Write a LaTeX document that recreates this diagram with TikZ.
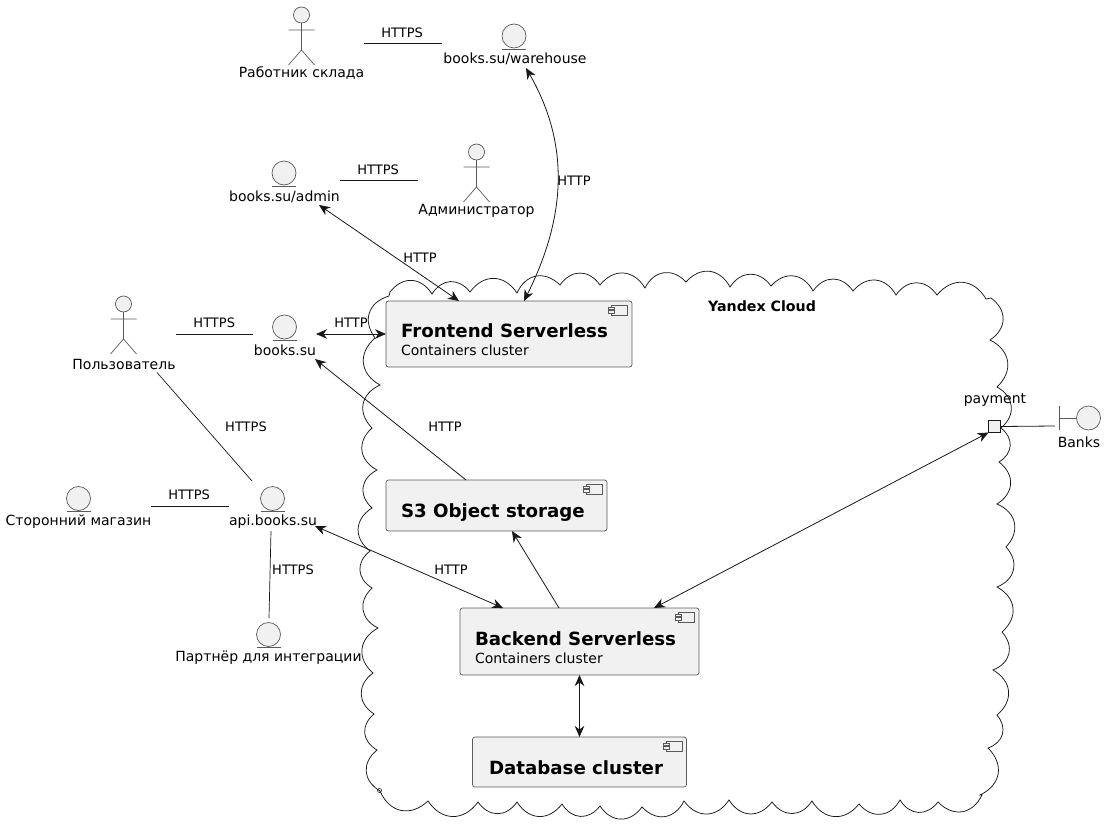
\documentclass[tikz,border=0pt]{standalone}
\usepackage{fontspec}
\setmainfont{DejaVu Sans}
\usetikzlibrary{arrows.meta}
\definecolor{ink}{HTML}{181818}
\definecolor{soft}{HTML}{5A5A5A}
\definecolor{pale}{HTML}{F1F1F1}
\tikzset{
  x=1pt,y=-1pt,
  box/.style={inner sep=0pt,outer sep=0pt,minimum width=#1},
  txt/.style={inner sep=0pt,outer sep=0pt,text=black,font=\fontsize{14}{16}\selectfont},
  lbl/.style={inner sep=0pt,outer sep=0pt,text=black,font=\fontsize{13}{15}\selectfont},
  ttl/.style={inner sep=0pt,outer sep=0pt,anchor=base west,text=black,font=\fontsize{18.2}{22}\selectfont\bfseries},
  subt/.style={inner sep=0pt,outer sep=0pt,anchor=base west,text=black,font=\fontsize{14}{16}\selectfont},
  comp/.style={draw=soft,fill=pale,line width=0.7pt,rounded corners=2.5pt,inner sep=0pt,outer sep=0pt},
  fig/.style={draw=soft,fill=pale,line width=0.7pt},
  edge/.style={draw=ink,line width=0.8pt},
  both/.style={edge,{Stealth[length=11pt,width=9.5pt,inset=3.5pt]}-{Stealth[length=11pt,width=9.5pt,inset=3.5pt]}},
  tohead/.style={edge,-{Stealth[length=11pt,width=9.5pt,inset=3.5pt]}},
  ca/.style={bend left=55,looseness=1.25},
}
\newcommand{\stick}[2]{%
  \draw[fig] (#1,#2) circle[radius=8];
  \draw[draw=soft,line width=0.7pt] (#1,#2+8) -- (#1,#2+35) (#1-13,#2+15) -- (#1+13,#2+15)
    (#1-13,#2+50) -- (#1,#2+35) -- (#1+13,#2+50);}
\newcommand{\ball}[2]{%
  \draw[fig] (#1,#2) circle[radius=12];
  \draw[draw=soft,line width=0.7pt] (#1-12,#2+13) -- (#1+12,#2+13);}
\newcommand{\icon}[2]{%
  \draw[draw=soft,fill=pale,line width=0.6pt] (#1+3,#2) rectangle (#1+19,#2+10);
  \draw[draw=soft,fill=pale,line width=0.6pt] (#1,#2+2) rectangle (#1+6,#2+4.5);
  \draw[draw=soft,fill=pale,line width=0.6pt] (#1,#2+5.5) rectangle (#1+6,#2+8);}
\begin{document}
\begin{tikzpicture}
\useasboundingbox (0,0) rectangle (1107,832);
% cloud
\draw[draw=ink,line width=0.75pt,line join=miter]
  (390,292) to[ca] (432,294) to[ca] (470,292) to[ca] (517,293) to[ca] (560,285) to[ca] (600,285)
  to[ca] (645,288) to[ca] (686,282) to[ca] (730,287) to[ca] (771,286) to[ca] (813,291) to[ca] (853,291)
  to[ca] (896,295) to[ca] (937,295) to[ca] (986,299) -- (991,298)
  to[ca] (990,340) to[ca] (997,387) to[ca] (1001,428) to[ca] (999,462) to[ca] (997,504) to[ca] (1006,547)
  to[ca] (997,587) to[ca] (1002,632) to[ca] (993,670) to[ca] (997,715) to[ca] (988,748) to[ca] (980,795) -- (982,795)
  to[ca] (938,802) to[ca] (900,800) to[ca] (859,804) to[ca] (812,801) to[ca] (772,802) to[ca] (729,800)
  to[ca] (684,801) to[ca] (642,807) to[ca] (600,806) to[ca] (562,804) to[ca] (517,802) to[ca] (478,802)
  to[ca] (428,801) to[ca] (380,791)
  to[ca] (377,750) to[ca] (374,714) to[ca] (373,673) to[ca] (378,628) to[ca] (372,588) to[ca] (370,551)
  to[ca] (372,508) to[ca] (377,470) to[ca] (372,428) to[ca] (380,385) to[ca] (375,338) to[ca] (389,296) -- (390,292);
\draw[draw=ink,line width=0.6pt] (379.5,790.5) circle[radius=2];
\node[inner sep=0pt,text=black,font=\fontsize{14.2}{16}\selectfont\bfseries] (cloudname) at (762,306) {Yandex Cloud};

% components
\node[comp,minimum width=246pt,minimum height=66pt] (frontend) at (509,334) {};
\icon{608}{305}
\node[ttl] (frontendT) at (401,337) {Frontend Serverless};
\node[subt] (frontendS) at (401,355) {Containers cluster};
\node[comp,minimum width=221pt,minimum height=51pt] (s3) at (496.5,505.5) {};
\icon{583}{484}
\node[ttl] (s3T) at (401,517) {S3 Object storage};
\node[comp,minimum width=239pt,minimum height=67pt] (backend) at (579.5,641.5) {};
\icon{675}{612}
\node[ttl] (backendT) at (475,645) {Backend Serverless};
\node[subt] (backendS) at (475,663) {Containers cluster};
\node[comp,minimum width=214pt,minimum height=50pt] (db) at (579.5,762) {};
\icon{663}{741}
\node[ttl] (dbT) at (489,774) {Database cluster};

% actors and entities: invisible boxes give the connectors their ends
\node[box=125pt,minimum height=76pt] (worker) at (301.5,43) {};
\stick{301.5}{15}
\node[txt] (workerL) at (301.5,73) {Работник склада};
\node[box=146pt,minimum height=50pt] (wh) at (515,43) {};
\ball{514}{36}
\node[txt] (whL) at (515,59) {books.su/warehouse};
\node[box=111pt,minimum height=50pt] (adminpage) at (284.5,180) {};
\ball{284}{173}
\node[txt] (adminpageL) at (284.5,197) {books.su/admin};
\node[box=117pt,minimum height=76pt] (admin) at (476.5,180) {};
\stick{476.5}{152}
\node[txt] (adminL) at (476.5,211) {Администратор};
\node[box=103pt,minimum height=77pt] (user) at (124,334) {};
\stick{123.5}{304}
\node[txt] (userL) at (124,364) {Пользователь};
\node[box=63pt,minimum height=50pt] (books) at (284.5,334) {};
\ball{284.5}{327}
\node[txt] (booksL) at (285,350) {books.su};
\node[box=86pt,minimum height=50pt] (api) at (272,506) {};
\ball{272.5}{498.5}
\node[txt] (apiL) at (273,522) {api.books.su};
\node[box=145pt,minimum height=50pt] (shop) at (78.5,506) {};
\ball{78.5}{498.5}
\node[txt] (shopL) at (78.5,522) {Сторонний магазин};
\node[box=185pt,minimum height=50pt] (partner) at (268.5,643) {};
\ball{268.5}{634.5}
\node[txt] (partnerL) at (268.5,658) {Партнёр для интеграции};
\node[box=48pt,minimum height=48pt] (banks) at (1079,426) {};
\draw[fig] (1088.5,418) circle[radius=12];
\draw[draw=soft,line width=0.7pt] (1059.5,406) -- (1059.5,430) (1059.5,418) -- (1076.5,418);
\node[txt] (banksL) at (1079,442) {Banks};

% connectors
\draw[edge] (worker.east) -- (wh.west) node[lbl,pos=0.49,yshift=10pt] {HTTPS};
\draw[edge] (adminpage.east) -- (admin.west) node[lbl,pos=0.49,yshift=10pt] {HTTPS};
\draw[edge] (user.east) -- (books.west) node[lbl,pos=0.5,yshift=11pt] {HTTPS};
\draw[edge] (shop.east) -- (api.west) node[lbl,pos=0.49,yshift=11pt] {HTTPS};
\draw[edge,line width=0.7pt] (157,0 |- user.south) -- (252,0 |- api.north);
\node[lbl] (l1) at (246,427) {HTTPS};
\draw[edge,line width=0.7pt] (271,0 |- api.south) -- (269,0 |- partner.north);
\node[lbl] (l2) at (293,570) {HTTPS};
\draw[both] (526,0 |- wh.south) .. controls (572,148) and (564,221) .. (524,0 |- frontend.north);
\node[lbl] (l3) at (574,181) {HTTP};
\draw[both] (319,0 |- adminpage.south) -- (459,0 |- frontend.north);
\node[lbl] (l4) at (420,258) {HTTP};
\draw[both] (books.east) -- (frontend.west);
\node[lbl] (l5) at (351,323) {HTTP};
\draw[tohead] (466,0 |- s3.north) -- (315,0 |- books.south);
\node[lbl] (l6) at (445,427) {HTTP};
\draw[both] (315,526 -| api.east) -- (503,0 |- backend.north);
\node[lbl] (l7) at (451,570) {HTTP};
\draw[tohead] (559,0 |- backend.north) -- (512,0 |- s3.south);
\draw[both] (backend.south) -- (db.north);

% payment port
\node[draw=ink,fill=pale,line width=1.7pt,minimum size=12pt,inner sep=0pt,outer sep=0pt] (port) at (994.5,426.5) {};
\node[txt] (portL) at (995,400) {payment};
\draw[both] (654,0 |- backend.north) -- (port.south west);
\draw[edge] (port.east) -- (banks.west);
\end{tikzpicture}
\end{document}
